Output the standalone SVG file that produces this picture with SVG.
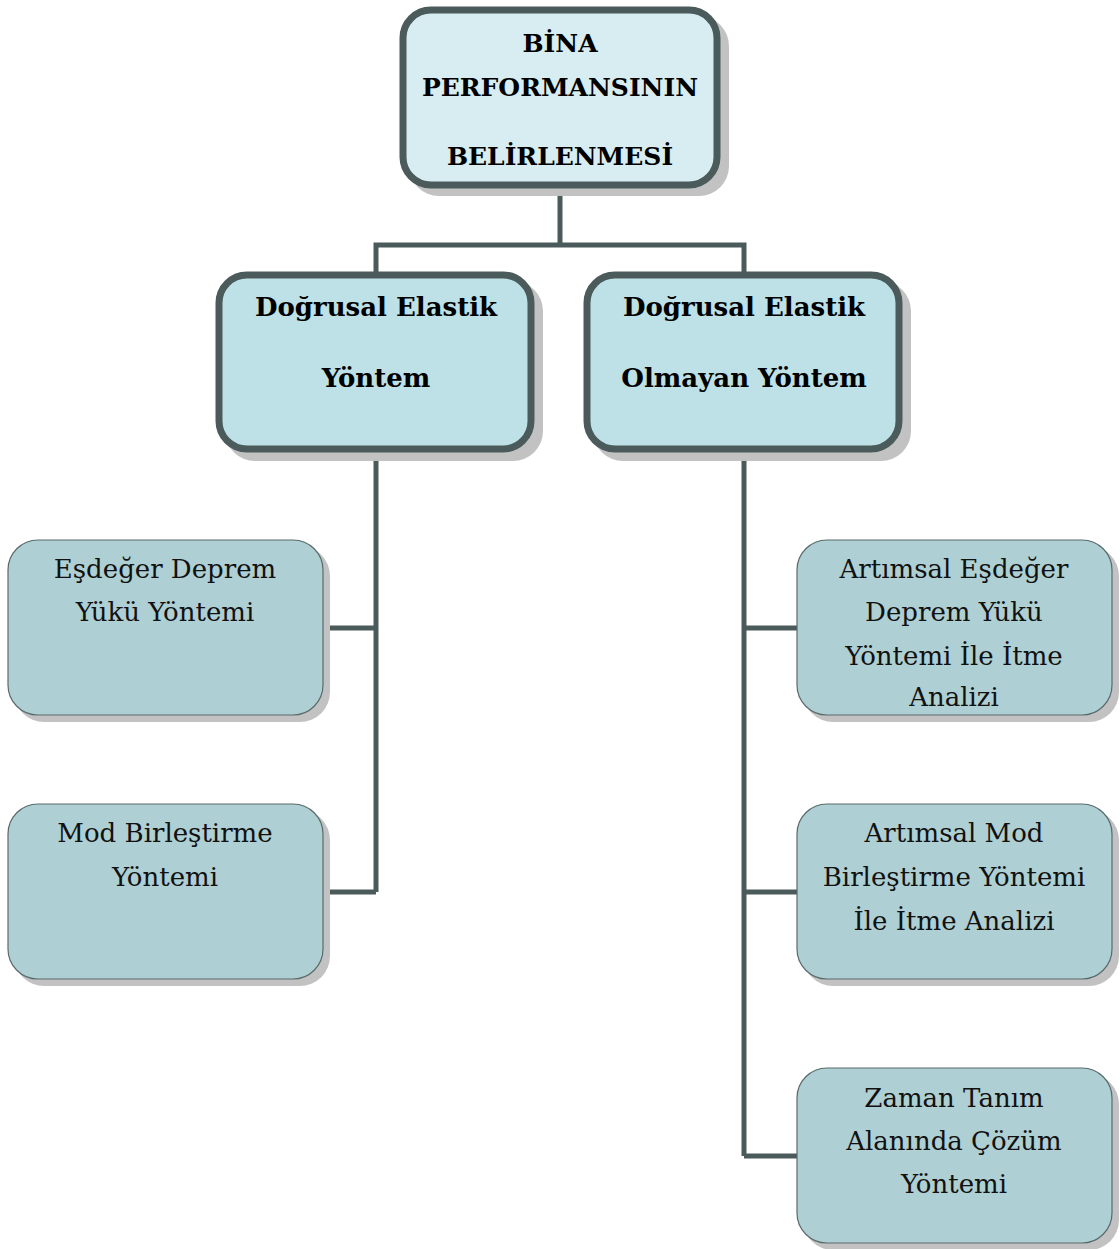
<svg xmlns="http://www.w3.org/2000/svg" width="1120" height="1249" viewBox="0 0 1120 1249">
<style>
.sh{fill:#c2c2c2}
.top{fill:#d8edf1;stroke:#4b5a5b;stroke-width:7}
.mid{fill:#bde1e6;stroke:#4b5a5b;stroke-width:7}
.leaf{fill:#aecfd3;stroke:#5a6a6b;stroke-width:1.2}
.tb{font-family:"DejaVu Serif","Liberation Serif",serif;font-weight:bold;font-size:25px;fill:#000;text-anchor:middle}
.tm{font-size:26px}
.tr{font-family:"DejaVu Serif","Liberation Serif",serif;font-size:26px;fill:#111;text-anchor:middle}
.con{fill:none;stroke:#4b5a5b;stroke-width:5}
</style>
<rect width="1120" height="1249" fill="#fff"/>
<g id="connectors">
<path class="con" d="M560 188V245M376 273V245H744V273"/>
<path class="con" d="M376 452V892M323 628H376M323 892H376"/>
<path class="con" d="M744 452V1156M744 628H797M744 892H797M744 1156H797"/>
</g>
<g id="n0">
<rect class="sh" x="409" y="16" width="320" height="180" rx="30"/>
<rect class="top" x="403" y="10" width="314" height="175" rx="28"/>
<text class="tb" x="560" y="52">BİNA</text>
<text class="tb" x="560" y="96">PERFORMANSININ</text>
<text class="tb" x="560" y="165">BELİRLENMESİ</text>
</g>
<g id="n1">
<rect class="sh" x="225" y="281" width="318" height="180" rx="30"/>
<rect class="mid" x="219" y="275" width="312" height="174" rx="28"/>
<text class="tb tm" x="376" y="316">Doğrusal Elastik</text>
<text class="tb tm" x="376" y="387">Yöntem</text>
</g>
<g id="n2">
<rect class="sh" x="593" y="281" width="318" height="180" rx="30"/>
<rect class="mid" x="587" y="275" width="312" height="174" rx="28"/>
<text class="tb tm" x="744" y="316">Doğrusal Elastik</text>
<text class="tb tm" x="744" y="387">Olmayan Yöntem</text>
</g>
<g id="n3">
<rect class="sh" x="14" y="546" width="316" height="176" rx="30"/>
<rect class="leaf" x="8" y="540" width="315" height="175" rx="30"/>
<text class="tr" x="165" y="578">Eşdeğer Deprem</text>
<text class="tr" x="165" y="621">Yükü Yöntemi</text>
</g>
<g id="n4">
<rect class="sh" x="14" y="810" width="316" height="176" rx="30"/>
<rect class="leaf" x="8" y="804" width="315" height="175" rx="30"/>
<text class="tr" x="165" y="842">Mod Birleştirme</text>
<text class="tr" x="165" y="886">Yöntemi</text>
</g>
<g id="n5">
<rect class="sh" x="803" y="546" width="316" height="176" rx="30"/>
<rect class="leaf" x="797" y="540" width="315" height="175" rx="30"/>
<text class="tr" x="954" y="578">Artımsal Eşdeğer</text>
<text class="tr" x="954" y="621">Deprem Yükü</text>
<text class="tr" x="954" y="665">Yöntemi İle İtme</text>
<text class="tr" x="954" y="706">Analizi</text>
</g>
<g id="n6">
<rect class="sh" x="803" y="810" width="316" height="176" rx="30"/>
<rect class="leaf" x="797" y="804" width="315" height="175" rx="30"/>
<text class="tr" x="954" y="842">Artımsal Mod</text>
<text class="tr" x="954" y="886">Birleştirme Yöntemi</text>
<text class="tr" x="954" y="930">İle İtme Analizi</text>
</g>
<g id="n7">
<rect class="sh" x="803" y="1074" width="316" height="176" rx="30"/>
<rect class="leaf" x="797" y="1068" width="315" height="175" rx="30"/>
<text class="tr" x="954" y="1107">Zaman Tanım</text>
<text class="tr" x="954" y="1150">Alanında Çözüm</text>
<text class="tr" x="954" y="1193">Yöntemi</text>
</g>
</svg>
